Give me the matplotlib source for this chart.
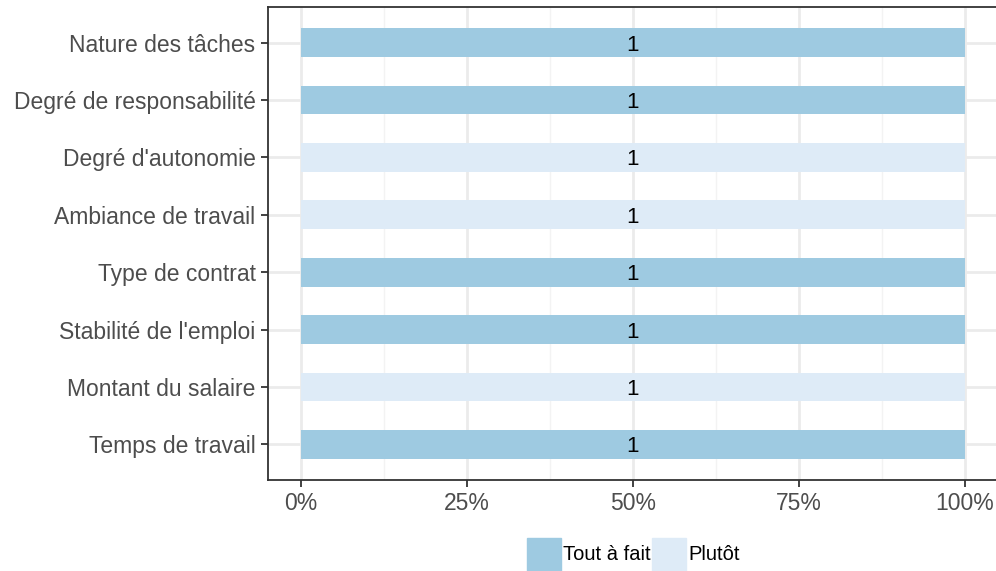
import matplotlib.pyplot as plt
from matplotlib.patches import Rectangle
from matplotlib.ticker import FuncFormatter

plt.rcParams['font.family'] = ['Liberation Sans', 'DejaVu Sans']

# données
categories = ["Nature des tâches", "Degré de responsabilité", "Degré d'autonomie",
              "Ambiance de travail", "Type de contrat", "Stabilité de l'emploi",
              "Montant du salaire", "Temps de travail"]
reponses = ["Tout à fait", "Tout à fait", "Plutôt", "Plutôt",
            "Tout à fait", "Tout à fait", "Plutôt", "Tout à fait"]
effectifs = [1, 1, 1, 1, 1, 1, 1, 1]
niveaux = ["Tout à fait", "Plutôt"]
couleurs = {"Tout à fait": "#9ECAE1", "Plutôt": "#DEEBF7"}

fig = plt.figure(figsize=(9.96, 5.71), dpi=100)
ax = fig.add_axes([268 / 996, 1 - 480 / 571, 730 / 996, 473 / 571])

n = len(categories)
ypos = [n - 1 - i for i in range(n)]
for y, rep, eff in zip(ypos, reponses, effectifs):
    ax.barh(y, eff / eff, height=0.5, color=couleurs[rep], zorder=2)
    ax.text(0.5, y, str(eff), ha="center", va="center_baseline", fontsize=16,
            color="black", zorder=3)

ax.set_xlim(-0.05, 1.05)
ax.set_ylim(-0.62, n - 1 + 0.62)
ax.set_yticks(ypos)
ax.set_yticklabels(categories)
ax.set_xticks([0, 0.25, 0.5, 0.75, 1])
ax.set_xticks([0.125, 0.375, 0.625, 0.875], minor=True)
ax.xaxis.set_major_formatter(FuncFormatter(lambda v, p: f"{int(round(v * 100))}%"))

ax.grid(True, which="major", color="#EBEBEB", linewidth=2.0, zorder=0)
ax.grid(True, which="minor", axis="x", color="#F3F3F3", linewidth=1.0, zorder=0)
ax.set_axisbelow(True)

for s in ["left", "bottom", "top"]:
    ax.spines[s].set_color("#333333")
    ax.spines[s].set_linewidth(1.3)
ax.spines["right"].set_visible(False)

ax.tick_params(axis="both", which="major", labelsize=16.5, labelcolor="#4D4D4D",
               color="#333333", length=5, width=1.3)
ax.tick_params(axis="x", which="major", pad=4)
ax.tick_params(axis="y", which="major", pad=4)
ax.tick_params(axis="x", which="minor", length=0)

# légende
lx = [527, 652]
for x0, niv in zip(lx, niveaux):
    fig.patches.append(Rectangle((x0 / 996, 0), 34 / 996, 33 / 571,
                                 transform=fig.transFigure,
                                 color=couleurs[niv], zorder=2))
    fig.text((x0 + 36) / 996, 1 - 555 / 571, niv, fontsize=14.5,
             color="black", va="center", ha="left")

fig.savefig("out.png", dpi=100)
